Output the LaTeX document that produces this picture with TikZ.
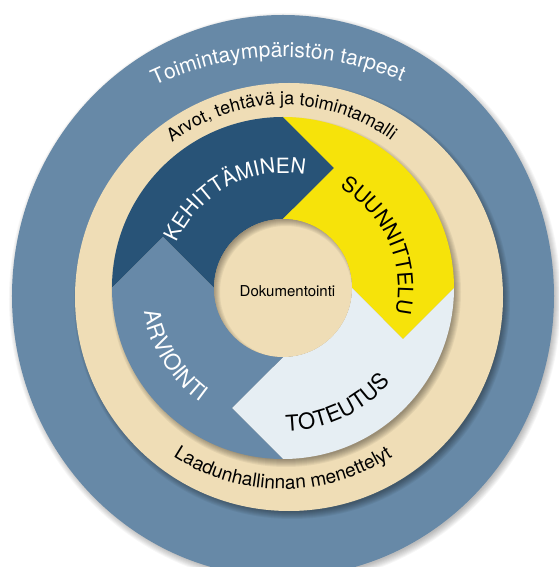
\documentclass[tikz,border=0pt]{standalone}
\usepackage{fontspec}
\setmainfont{TeX Gyre Heros}
\usetikzlibrary{decorations.text}
\definecolor{outerblue}{HTML}{6789A7}
\definecolor{beigec}{HTML}{EFDDB6}
\definecolor{darkblue}{HTML}{285377}
\definecolor{midblue}{HTML}{6789A8}
\definecolor{yellowq}{HTML}{F6E30A}
\definecolor{lightq}{HTML}{E6EEF3}
\tikzset{
  arctext/.style n args={3}{decorate, decoration={text along path, text align=center, text color=#1, text={|\fontsize{#2}{#2}\selectfont|#3}}},
  shadowlayer/.style={fill=black, opacity=0.035},
  deepshadow/.style={fill=black, opacity=0.05},
}
\newcommand\quadrantpath[1]{%
  (#1:171) -- ({#1-23.03}:130.4) -- (#1:69) arc[start angle=#1, end angle={#1+90}, radius=69]
  -- ({#1+90-23.03}:130.4) -- ({#1+90}:171) arc[start angle={#1+90}, end angle=#1, radius=171] -- cycle}
\begin{document}
\begin{tikzpicture}[x=1pt,y=1pt]
\fill[white] (-283,288) rectangle (275,-279);
\useasboundingbox (-283,288) rectangle (275,-279);
% outer disc shadow
\foreach \i in {0,...,7}
  \fill[shadowlayer] (2,-11) ellipse [x radius={269+\i}, y radius={279+\i}];
\fill[outerblue] (0,-8) ellipse [x radius=271, y radius=281];
% beige disc shadow
\foreach \i in {0,...,7}
  \fill[deepshadow] (9,-13) circle ({211+\i});
\fill[beigec] (6,-9) circle (214);
% ring shadow
\foreach \i in {0,...,7}
  \fill[deepshadow] (3,-4) circle ({168+\i});
% quadrants
\fill[darkblue] \quadrantpath{90};
\fill[yellowq] \quadrantpath{0};
\fill[lightq] \quadrantpath{-90};
\fill[midblue] \quadrantpath{180};
% centre
\node[circle, fill=beigec, minimum size=138pt, inner sep=0pt] (doc) at (0,0) {};
\begin{scope}
  \clip (0,0) circle (69);
  \foreach \i in {0,...,7}
    \fill[deepshadow, even odd rule] (-80,-80) rectangle (80,80) (3,-4) circle ({66+\i});
\end{scope}
\node[font=\fontsize{15}{15}\selectfont] (doclabel) at (4.5,-3) {Dokumentointi};
% ring texts
\coordinate (tc) at (0,-69);
\path[arctext={white}{21}{Toimintaympäristön tarpeet}] ([shift={(141:300)}]tc) arc[start angle=141, end angle=41, radius=300];
\path[arctext={black}{18}{Arvot, tehtävä ja toimintamalli}] (150.5:183) arc[start angle=150.5, end angle=30.5, radius=183];
\path[arctext={black}{19}{Laadunhallinnan menettelyt}] (210:201) arc[start angle=210, end angle=330, radius=201];
% quadrant texts
\path[arctext={white}{21}{KEHITTÄMINEN}] (178:115) arc[start angle=178, end angle=58, radius=115];
\path[arctext={black}{21}{SUUNNITTELU}] (84:115) arc[start angle=84, end angle=-36, radius=115];
\path[arctext={black}{22}{TOTEUTUS}] (-125:143) arc[start angle=-125, end angle=-5, radius=143];
\path[arctext={white}{22}{ARVIOINTI}] (152:141) arc[start angle=152, end angle=272, radius=141];
\end{tikzpicture}
\end{document}
